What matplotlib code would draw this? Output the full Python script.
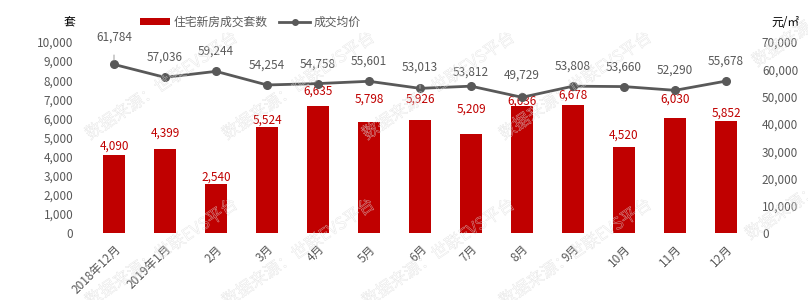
import matplotlib
matplotlib.use("Agg")
import matplotlib.pyplot as plt
from matplotlib.lines import Line2D
from matplotlib.patches import Patch
import matplotlib.patheffects as pe

plt.rcParams['font.family'] = ['Noto Sans CJK SC', 'DejaVu Sans']

categories = ["2018年12月", "2019年1月", "2月", "3月", "4月", "5月", "6月",
              "7月", "8月", "9月", "10月", "11月", "12月"]
units_sold = [4090, 4399, 2540, 5524, 6635, 5798, 5926, 5209, 6636, 6678, 4520, 6030, 5852]
avg_price = [61784, 57036, 59244, 54254, 54758, 55601, 53013, 53812, 49729, 53808, 53660, 52290, 55678]

# label placement (pixel offsets of label centre above the mark), as in the reference
bar_label_offsets = [9, 16, 7, 7, 15, 23, 21, 24, 5, 10, 12, 19, 8]
line_label_offsets = [27, 20, 20, 20, 19, 20, 21, 14, 22, 20, 19, 20, 20]
line_leaders = [0, 6, 8]

bar_color = "#C00000"
line_color = "#595959"
text_color = "#595959"
PX = 0.72  # points per pixel at dpi 100

fig = plt.figure(figsize=(8.08, 3.0), dpi=100)
ax = fig.add_axes([88.5 / 808, 1 - 233 / 300, 663 / 808, 191 / 300])
ax2 = ax.twinx()

x = list(range(len(categories)))
ax.bar(x, units_sold, width=0.43, color=bar_color, zorder=2)
ax.set_ylim(0, 10000)
ax.set_xlim(-0.5, len(categories) - 0.5)
ax.set_yticks(range(0, 10001, 1000))
ax.set_yticklabels([f"{v:,}" for v in range(0, 10001, 1000)])

ax2.plot(x, avg_price, color=line_color, lw=2, marker='o', ms=5.5, zorder=3)
ax2.set_ylim(0, 70000)
ax2.set_yticks(range(0, 70001, 10000))
ax2.set_yticklabels([f"{v:,}" for v in range(0, 70001, 10000)])

for a in (ax, ax2):
    for s in a.spines.values():
        s.set_visible(False)
    a.tick_params(length=0, labelsize=8.5, colors=text_color)

ax.set_xticks(x)
ax.set_xticklabels(categories, rotation=45, ha='right', va='top', rotation_mode='anchor')
ax.tick_params(axis='x', pad=7)
ax.tick_params(axis='y', pad=11)
ax2.tick_params(axis='y', pad=7.5)

for xi, v, off in zip(x, units_sold, bar_label_offsets):
    ax.annotate(f"{v:,}", (xi, v), xytext=(0, off * PX), textcoords='offset points',
                ha='center', va='center', fontsize=8.5, color=bar_color, zorder=5)

for i, (xi, v, off) in enumerate(zip(x, avg_price, line_label_offsets)):
    kw = {}
    if i in line_leaders:
        kw['arrowprops'] = dict(arrowstyle='-', color='#A6A6A6', lw=0.8,
                                shrinkA=6, shrinkB=3)
    ax2.annotate(f"{v:,}", (xi, v), xytext=(0, off * PX), textcoords='offset points',
                 ha='center', va='center', fontsize=8.5, color=text_color, zorder=5, **kw)

fig.text(75 / 808, 1 - 23 / 300, "套", ha='right', va='center', fontsize=8.5, color='#000000')
fig.text(800 / 808, 1 - 22 / 300, "元/㎡", ha='right', va='center', fontsize=8.5, color='#000000')

handles = [Patch(facecolor=bar_color, edgecolor='none'),
           Line2D([0], [0], color=line_color, lw=2, marker='o', ms=4)]
fig.legend(handles, ["住宅新房成交套数", "成交均价"], loc='center left', ncol=2,
           bbox_to_anchor=(140 / 808, 1 - 22 / 300), frameon=False, fontsize=8.5,
           borderaxespad=0, borderpad=0,
           handlelength=2.55, handleheight=0.6, columnspacing=1.0, handletextpad=0.3,
           labelcolor=text_color)

# watermark (hollow light-grey text)
wm_text = "数据来源：世联EVS平台"
wm_starts = [(90, 140), (227, 140), (367, 140), (504, 140), (757, 67),
             (90, 307), (227, 307), (367, 307), (504, 307), (750, 240)]
for (wx, wy) in wm_starts:
    t = fig.text(wx / 808, 1 - wy / 300, wm_text, rotation=34, rotation_mode='anchor',
                 ha='left', va='baseline', fontsize=12, color='none', zorder=10,
                 fontweight='light')
    t.set_path_effects([pe.Stroke(linewidth=0.25, foreground='#DCDCDC')])

fig.savefig("out.png", dpi=100)
